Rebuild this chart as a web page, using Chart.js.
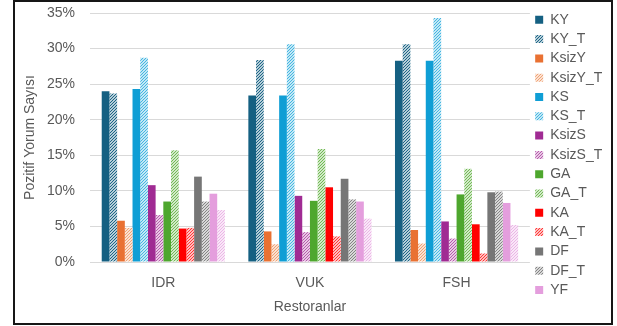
<!DOCTYPE html>
<html>
<head>
<meta charset="utf-8">
<script src="https://cdn.jsdelivr.net/npm/chart.js@4/dist/chart.umd.min.js"></script>
<style>
  html, body { margin: 0; padding: 0; background: #fff; }
  #wrap { position: relative; width: 617px; height: 326px; }
  #frame {
    position: absolute; left: 13px; top: 0; width: 600px; height: 325px;
    box-sizing: border-box; border: 2px solid #161616; pointer-events: none;
  }
</style>
</head>
<body>
<div id="wrap">
  <canvas id="c" width="617" height="326"></canvas>
  <div id="frame"></div>
</div>
<script>
// Restaurants and the share of positive reviews (%) per aspect
const categories = ['IDR', 'VUK', 'FSH'];

const KY      = [24.0, 23.4, 28.3];
const KY_T    = [23.7, 28.4, 30.6];
const KsizY   = [5.8, 4.3, 4.5];
const KsizY_T = [4.8, 2.5, 2.6];
const KS      = [24.3, 23.4, 28.3];
const KS_T    = [28.7, 30.6, 34.3];
const KsizS   = [10.8, 9.3, 5.7];
const KsizS_T = [6.6, 4.2, 3.3];
const GA      = [8.5, 8.6, 9.5];
const GA_T    = [15.7, 15.9, 13.1];
const KA      = [4.7, 10.5, 5.3];
const KA_T    = [4.8, 3.6, 1.2];
const DF      = [12.0, 11.7, 9.8];
const DF_T    = [8.5, 8.8, 9.9];
const YF      = [9.6, 8.5, 8.3];
const YF_T    = [7.3, 6.1, 5.2];

const yTicks = [0, 5, 10, 15, 20, 25, 30, 35];

// Fine diagonal hatch fill for the "_T" series
function hatch(color) {
  const n = 3;
  const c = document.createElement('canvas');
  c.width = n; c.height = n;
  const g = c.getContext('2d');
  g.fillStyle = '#ffffff';
  g.fillRect(0, 0, n, n);
  g.strokeStyle = color;
  g.lineWidth = 1.2;
  g.beginPath();
  g.moveTo(-1, n + 1); g.lineTo(n + 1, -1);
  g.moveTo(-1, 1); g.lineTo(1, -1);
  g.moveTo(n - 1, n + 1); g.lineTo(n + 1, n - 1);
  g.stroke();
  return g.createPattern(c, 'repeat');
}

const series = [
  ['KY', KY, '#156082', false],
  ['KY_T', KY_T, '#156082', true],
  ['KsizY', KsizY, '#E97132', false],
  ['KsizY_T', KsizY_T, '#F0A070', true],
  ['KS', KS, '#0F9ED5', false],
  ['KS_T', KS_T, '#3FB4E0', true],
  ['KsizS', KsizS, '#A02B93', false],
  ['KsizS_T', KsizS_T, '#B555AA', true],
  ['GA', GA, '#4EA72E', false],
  ['GA_T', GA_T, '#6DB84F', true],
  ['KA', KA, '#FF0000', false],
  ['KA_T', KA_T, '#FF3030', true],
  ['DF', DF, '#767676', false],
  ['DF_T', DF_T, '#808080', true],
  ['YF', YF, '#E49EDD', false],
  ['YF_T', YF_T, '#EBB3E6', true]
];

const datasets = series.map(([label, data, color, hatched]) => ({
  label,
  data,
  backgroundColor: hatched ? hatch(color) : color,
  borderWidth: 0
}));

const textColor = '#595959';
Chart.defaults.font.family = '"Liberation Sans", Arial, sans-serif';
Chart.defaults.font.size = 14;
Chart.defaults.color = textColor;

new Chart(document.getElementById('c'), {
  type: 'bar',
  data: { labels: categories, datasets },
  options: {
    responsive: false,
    animation: false,
    events: [],
    layout: { padding: { top: 7.5, left: 14, bottom: 12.6, right: 4.7 } },
    datasets: { bar: { categoryPercentage: 0.84, barPercentage: 1 } },
    plugins: {
      tooltip: { enabled: false },
      legend: {
        position: 'right',
        align: 'start',
        labels: {
          boxWidth: 8,
          boxHeight: 8,
          padding: 5.3,
          color: textColor,
          font: { size: 14 },
          filter: (item) => item.text !== 'YF_T'
        }
      }
    },
    scales: {
      x: {
        grid: { display: false, drawTicks: false },
        border: { display: false },
        ticks: { padding: 12.6, color: textColor, font: { size: 14 } },
        title: {
          display: true, text: 'Restoranlar', color: textColor,
          font: { size: 14 }, padding: { top: -5.4, bottom: -2 }
        }
      },
      y: {
        min: 0,
        max: 35,
        afterBuildTicks: (scale) => { scale.ticks = yTicks.map(v => ({ value: v })); },
        afterFit: (scale) => { scale.width = 76; },
        grid: { color: '#d9d9d9', lineWidth: 1, drawTicks: true, tickLength: 12, tickColor: 'rgba(0,0,0,0)' },
        border: { display: false },
        ticks: {
          padding: 3,
          color: textColor,
          font: { size: 14, lineHeight: 20 / 14 },
          callback: (v) => v + '%'
        },
        title: {
          display: true, text: 'Pozitif Yorum Sayısı', color: textColor,
          font: { size: 14 }, padding: { top: 7.6, bottom: 0 }
        }
      }
    }
  }
});
</script>
</body>
</html>
